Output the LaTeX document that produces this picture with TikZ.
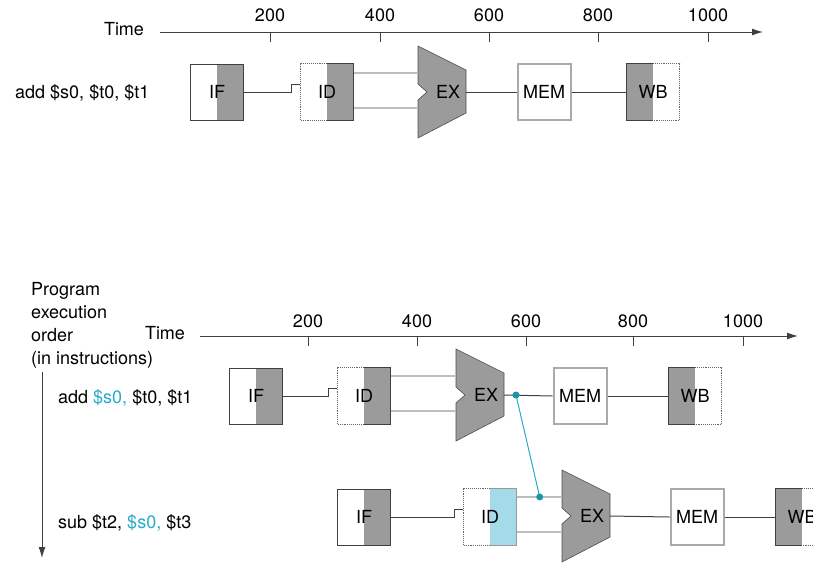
\documentclass[tikz,border=0pt]{standalone}
\usepackage{fontspec}
\setmainfont{TeX Gyre Heros}
\usepackage{xcolor}
\usepackage{tikz}
\usetikzlibrary{positioning,arrows.meta}

\definecolor{stagegray}{RGB}{155,155,155}
\definecolor{busgray}{RGB}{190,190,190}
\definecolor{memgray}{RGB}{170,170,170}
\definecolor{fwdcyan}{RGB}{40,170,200}
\definecolor{fwdfill}{RGB}{165,218,232}
\definecolor{fwddot}{RGB}{25,150,165}

\begin{document}
\begin{tikzpicture}[x=1pt, y=-1pt,
every node/.style={font=\fontsize{18}{23}\selectfont, inner sep=0pt},
stage/.style={minimum width=53pt, minimum height=56pt},
grayright/.style={path picture={\fill[stagegray] (path picture bounding box.north) rectangle (path picture bounding box.south east);}},
grayleft/.style={path picture={\fill[stagegray] (path picture bounding box.north west) rectangle (path picture bounding box.south);}},
cyanright/.style={path picture={\fill[fwdfill] (path picture bounding box.north) rectangle (path picture bounding box.south east);}},
ifbox/.style={stage, grayright, draw=black!75, line width=0.9pt},
membox/.style={stage, draw=memgray, line width=2pt},
frame/.style={draw=black!75, line width=0.9pt},
dots/.style={draw=black!60, densely dotted, line width=0.9pt},
wire/.style={draw=black!75, line width=1pt},
bus/.style={draw=busgray, line width=2.5pt},
axis/.style={draw=black!75, line width=1pt, -{Latex[length=11pt,width=7pt]}},
alu/.style={fill=stagegray, draw=black!70, line width=0.6pt}]

\useasboundingbox (0,0) rectangle (813,562);
\clip (0,0) rectangle (813,562);

% upper time line
\node (timea) at (124,29) {Time};
\coordinate (axa0) at (160,32);
\coordinate (axa1) at (763,32);
\draw[axis] (axa0) -- (axa1);
\foreach \x/\t in {270/200, 380/400, 489/600, 598/800, 708/1000} {
  \draw[wire] (\x,32) -- (\x,42);
  \node (ta\t) at (\x,15) {\t};
}

% lower time line
\node[anchor=north west, align=left] (prog) at (31,282) {Program\\execution\\order\\(in instructions)};
\node (timeb) at (165,333) {Time};
\coordinate (axb0) at (200,336);
\coordinate (axb1) at (798,336);
\draw[axis] (axb0) -- (axb1);
\foreach \x/\t in {308/200, 417/400, 526/600, 633/800, 743/1000} {
  \draw[wire] (\x,336) -- (\x,346);
  \node (tb\t) at (\x,321) {\t};
}
\coordinate (orderend) at (42,558);
\draw[axis] ([yshift=-4pt]prog.south west -| orderend) -- (orderend);

% instructions
\node[anchor=west] (insa) at (15,93) {add \$s0, \$t0, \$t1};
\node[anchor=west] (insb) at (58,398) {add {\color{fwdcyan}\$s0,} \$t0, \$t1};
\node[anchor=west] (insc) at (58,523) {sub \$t2, {\color{fwdcyan}\$s0,} \$t3};

% ALUs
\foreach \n/\x/\y in {exa/442/92, exb/480/395, exc/586/516} {
  \filldraw[alu] ({\x-24},{\y-46}) -- ({\x+24},{\y-22}) -- ({\x+24},{\y+21}) -- ({\x-24},{\y+46})
    -- ({\x-24},{\y+8}) -- ({\x-15},\y) -- ({\x-24},{\y-8}) -- cycle;
  \coordinate (\n-in1) at ({\x-24},{\y-19});
  \coordinate (\n-in2) at ({\x-24},{\y+16});
  \coordinate (\n-out) at ({\x+24},\y);
  \node (\n) at ({\x+6},\y) {EX};
}

% stages
\node[ifbox] (ifa) at (217,92) {IF};
\node[stage, grayright] (ida) at (327,92) {ID};
\node[membox] (mema) at (544,92) {MEM};
\node[stage, grayleft] (wba) at (653,92) {WB};

\node[ifbox] (ifb) at (256,396) {IF};
\node[stage, grayright] (idb) at (364,396) {ID};
\node[membox] (memb) at (580,396) {MEM};
\node[stage, grayleft] (wbb) at (695,396) {WB};

\node[ifbox] (ifc) at (364,517) {IF};
\node[stage, cyanright] (idc) at (490,517) {ID};
\node[membox] (memc) at (697,517) {MEM};
\node[stage, grayleft] (wbc) at (802,517) {WB};

% outlines of ID and WB
\foreach \n in {ida, idb} {
  \draw[dots] (\n.north) -| (\n.west) |- (\n.south);
  \draw[frame] (\n.north) -| (\n.east) |- (\n.south);
}
\draw[dots] (idc.north) -| (idc.west) |- (idc.south);
\draw[frame, draw=black!40] (idc.north) -| (idc.east) |- (idc.south);
\foreach \n in {wba, wbb, wbc} {
  \draw[frame] (\n.north) -| (\n.west) |- (\n.south);
  \draw[dots] (\n.north) -| (\n.east) |- (\n.south);
}

% connections
\foreach \f/\d/\e/\m/\w in {ifa/ida/exa/mema/wba, ifb/idb/exb/memb/wbb, ifc/idc/exc/memc/wbc} {
  \draw[wire] (\f.east) -- ([xshift=-9pt]\d.west) -- ++(0,-8) -- ([yshift=8pt]\d.west);
  \draw[bus] (\d.east |- \e-in1) -- (\e-in1);
  \draw[bus] (\d.east |- \e-in2) -- (\e-in2);
  \draw[wire] (\e-out) -- (\m.west);
  \draw[wire] (\m.east) -- (\w.west);
}

% forwarding
\coordinate (fwda) at ([xshift=12pt]exb-out);
\coordinate (fwdb) at ([xshift=23pt]idc.east |- exc-in1);
\draw[fwdcyan, line width=1pt] (fwda) -- (fwdb);
\fill[fwddot] (fwda) circle (3.5pt);
\fill[fwddot] (fwdb) circle (3.5pt);
\end{tikzpicture}
\end{document}
